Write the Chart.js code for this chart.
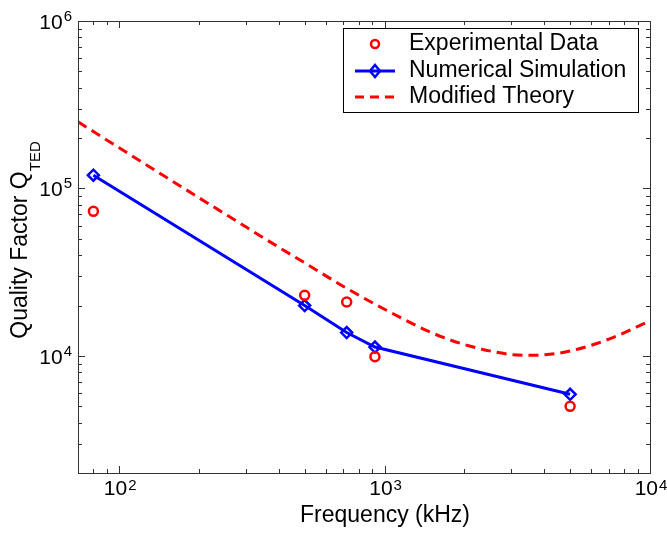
<!DOCTYPE html>
<html>
<head>
<meta charset="utf-8">
<script src="https://cdn.jsdelivr.net/npm/chart.js@4/dist/chart.umd.min.js"></script>
<style>
  body { margin: 0; background: #fff; }
  canvas { display: block; }
</style>
</head>
<body>
<canvas id="chart" width="667" height="537"></canvas>
<script>
// values (frequency in kHz, Q_TED)
const expFreq = [80, 500, 720, 920, 5000];
const expQ = [73000, 23000, 21000, 9900, 5000];

const simFreq = [80, 500, 720, 920, 5000];
const simQ = [120000, 20000, 13800, 11300, 5900];

const theoryFreq = [70, 100, 150, 200, 300, 400, 500, 700, 1000, 1500, 2000, 3000, 3500, 4000, 5000, 7000, 10000];
const theoryQ = [250000, 175000, 117000, 88000, 59000, 44500, 36000, 26000, 19000, 13800, 11700, 10200, 10100, 10150, 10700, 12600, 16200];

const xTickExps = [2, 3, 4];
const yTickExps = [4, 5, 6];
const xMin = 70, xMax = 10000;
const yMin = 2000, yMax = 1000000;

const FONT = '"Liberation Sans", Arial, Helvetica, sans-serif';

function toPoints(xs, ys) {
    return xs.map((x, i) => ({ x: x, y: ys[i] }));
}

function drawPow(ctx, exp, x, baseY, supDy, align) {
    ctx.font = '21px ' + FONT;
    const wBase = ctx.measureText('10').width;
    ctx.font = '15px ' + FONT;
    const wSup = ctx.measureText(String(exp)).width;
    const total = wBase + wSup + 1;
    let left = align === 'right' ? x - total : x - total / 2;
    ctx.textAlign = 'left';
    ctx.textBaseline = 'alphabetic';
    ctx.font = '21px ' + FONT;
    ctx.fillText('10', left, baseY);
    ctx.font = '15px ' + FONT;
    ctx.fillText(String(exp), left + wBase + 1, baseY - supDy);
}

const framePlugin = {
    id: 'frame',
    afterDraw(chart) {
        const ctx = chart.ctx;
        const area = chart.chartArea;
        const xs = chart.scales.x;
        const ys = chart.scales.y;
        ctx.save();

        // box
        ctx.strokeStyle = '#333';
        ctx.lineWidth = 1;
        ctx.strokeRect(area.left + 0.5, area.top + 0.5, area.right - area.left, area.bottom - area.top);

        // log ticks, inside on all four sides
        ctx.beginPath();
        for (let e = 1; e <= 4; e++) {
            for (let m = 1; m <= 9; m++) {
                const v = m * Math.pow(10, e);
                if (v < xMin || v > xMax) continue;
                const px = Math.round(xs.getPixelForValue(v)) + 0.5;
                const len = m === 1 ? 7 : 4;
                ctx.moveTo(px, area.bottom);
                ctx.lineTo(px, area.bottom - len);
                ctx.moveTo(px, area.top);
                ctx.lineTo(px, area.top + len);
            }
        }
        for (let e = 3; e <= 6; e++) {
            for (let m = 1; m <= 9; m++) {
                const v = m * Math.pow(10, e);
                if (v < yMin || v > yMax) continue;
                const py = Math.round(ys.getPixelForValue(v)) + 0.5;
                const len = m === 1 ? 7 : 4;
                ctx.moveTo(area.left, py);
                ctx.lineTo(area.left + len, py);
                ctx.moveTo(area.right, py);
                ctx.lineTo(area.right - len, py);
            }
        }
        ctx.stroke();

        // tick labels
        ctx.fillStyle = '#000';
        xTickExps.forEach(e => {
            const px = xs.getPixelForValue(Math.pow(10, e));
            drawPow(ctx, e, px + 1, area.bottom + 22, 5, 'center');
        });
        yTickExps.forEach(e => {
            const py = ys.getPixelForValue(Math.pow(10, e));
            drawPow(ctx, e, area.left - 6, py + 8, 8, 'right');
        });

        // axis titles
        ctx.font = '23px ' + FONT;
        ctx.textAlign = 'center';
        ctx.textBaseline = 'alphabetic';
        ctx.fillText('Frequency (kHz)', 385, 522);

        ctx.save();
        ctx.translate(27, 240);
        ctx.rotate(-Math.PI / 2);
        ctx.font = '23px ' + FONT;
        const wMain = ctx.measureText('Quality Factor Q').width;
        ctx.font = '15px ' + FONT;
        const wSub = ctx.measureText('TED').width;
        const start = -(wMain + wSub) / 2;
        ctx.textAlign = 'left';
        ctx.font = '23px ' + FONT;
        ctx.fillText('Quality Factor Q', start, 0);
        ctx.font = '15px ' + FONT;
        ctx.fillText('TED', start + wMain, 13);
        ctx.restore();

        // legend
        const lx = 343, ly = 28, lw = 295, lh = 84;
        ctx.fillStyle = '#fff';
        ctx.fillRect(lx, ly, lw, lh);
        ctx.strokeStyle = '#000';
        ctx.lineWidth = 1;
        ctx.strokeRect(lx + 0.5, ly + 0.5, lw, lh);

        const rows = [44, 71, 97];
        const mx = 375;

        ctx.strokeStyle = '#ff0000';
        ctx.lineWidth = 2.5;
        ctx.beginPath();
        ctx.arc(mx, rows[0], 4, 0, Math.PI * 2);
        ctx.stroke();

        ctx.strokeStyle = '#0000ff';
        ctx.lineWidth = 3;
        ctx.beginPath();
        ctx.moveTo(355, rows[1]);
        ctx.lineTo(395, rows[1]);
        ctx.stroke();
        ctx.lineWidth = 2.5;
        ctx.beginPath();
        ctx.moveTo(mx, rows[1] - 6);
        ctx.lineTo(mx + 5, rows[1]);
        ctx.lineTo(mx, rows[1] + 6);
        ctx.lineTo(mx - 5, rows[1]);
        ctx.closePath();
        ctx.stroke();

        ctx.strokeStyle = '#ff0000';
        ctx.lineWidth = 3;
        ctx.setLineDash([9, 6]);
        ctx.beginPath();
        ctx.moveTo(355, rows[2]);
        ctx.lineTo(397, rows[2]);
        ctx.stroke();
        ctx.setLineDash([]);

        ctx.fillStyle = '#000';
        ctx.font = '23px ' + FONT;
        ctx.textAlign = 'left';
        ctx.textBaseline = 'middle';
        ctx.fillText('Experimental Data', 409, rows[0]);
        ctx.fillText('Numerical Simulation', 409, rows[1]);
        ctx.fillText('Modified Theory', 409, rows[2]);

        ctx.restore();
    }
};

new Chart(document.getElementById('chart').getContext('2d'), {
    type: 'scatter',
    data: {
        datasets: [
            {
                label: 'Experimental Data',
                data: toPoints(expFreq, expQ),
                showLine: false,
                pointStyle: 'circle',
                pointRadius: 4.5,
                pointBorderWidth: 2.5,
                borderColor: '#ff0000',
                backgroundColor: 'rgba(0,0,0,0)'
            },
            {
                label: 'Numerical Simulation',
                data: toPoints(simFreq, simQ),
                showLine: true,
                borderColor: '#0000ff',
                borderWidth: 3,
                pointStyle: 'rectRot',
                pointRadius: 5.5,
                pointBorderWidth: 2.5,
                pointBorderColor: '#0000ff',
                pointBackgroundColor: 'rgba(0,0,0,0)',
                backgroundColor: 'rgba(0,0,0,0)'
            },
            {
                label: 'Modified Theory',
                data: toPoints(theoryFreq, theoryQ),
                showLine: true,
                borderColor: '#ff0000',
                borderWidth: 3,
                borderDash: [10, 6],
                pointRadius: 0,
                cubicInterpolationMode: 'monotone',
                backgroundColor: 'rgba(0,0,0,0)'
            }
        ]
    },
    options: {
        responsive: false,
        animation: false,
        layout: { padding: { left: 78, right: 17, top: 21, bottom: 64 } },
        plugins: {
            legend: { display: false },
            tooltip: { enabled: false }
        },
        scales: {
            x: { type: 'logarithmic', min: xMin, max: xMax, display: false },
            y: { type: 'logarithmic', min: yMin, max: yMax, display: false }
        }
    },
    plugins: [framePlugin]
});
</script>
</body>
</html>
